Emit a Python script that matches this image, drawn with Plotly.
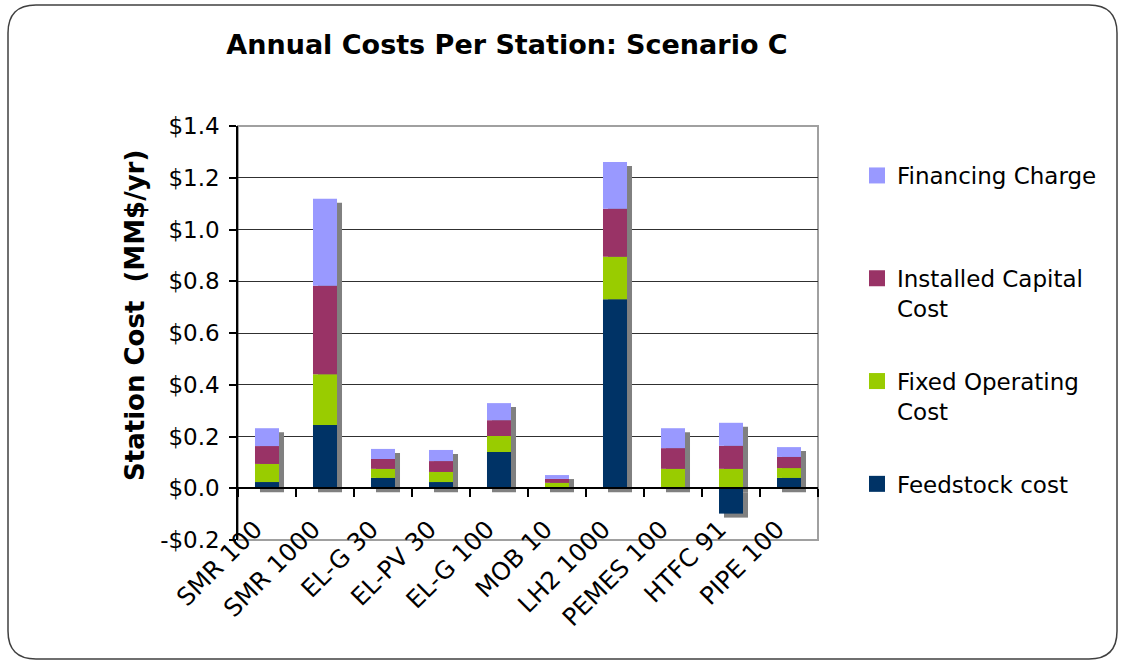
import numpy as np
import plotly.graph_objects as go

categories = ["SMR 100", "SMR 1000", "EL-G 30", "EL-PV 30", "EL-G 100",
              "MOB 10", "LH2 1000", "PEMES 100", "HTFC 91", "PIPE 100"]
feedstock = [0.024, 0.244, 0.040, 0.024, 0.140, 0.0, 0.730, 0.0, -0.098, 0.040]
fixed_op = [0.070, 0.197, 0.035, 0.039, 0.062, 0.021, 0.165, 0.075, 0.075, 0.038]
capital = [0.069, 0.342, 0.038, 0.042, 0.061, 0.015, 0.185, 0.080, 0.089, 0.043]
financing = [0.069, 0.336, 0.039, 0.043, 0.066, 0.015, 0.181, 0.077, 0.089, 0.038]

y_tickvals = [-0.2, 0.0, 0.2, 0.4, 0.6, 0.8, 1.0, 1.2, 1.4]
y_ticktext = ["-$0.2", "$0.0", "$0.2", "$0.4", "$0.6", "$0.8", "$1.0", "$1.2", "$1.4"]

series_names = ["Feedstock cost", "Fixed Operating<br>Cost",
                "Installed Capital<br>Cost", "Financing Charge"]
series_values = [feedstock, fixed_op, capital, financing]
series_colors = ["#003366", "#99CC00", "#993366", "#9999FF"]

W, H = 1122, 664
L, R, T, B = 238, 304, 126, 124
PW, PH = W - L - R, H - T - B
YMIN, YMAX = -0.2, 1.4
dx = 5 / (PW / len(categories))
dy = 4 / (PH / (YMAX - YMIN))

arr = np.array(series_values)
shadow_pos = np.where(arr > 0, arr, 0).sum(axis=0)
shadow_neg = np.where(arr < 0, arr, 0).sum(axis=0)

fig = go.Figure()
# shadows (main axes, shifted right/down)
for sv in (shadow_pos, shadow_neg):
    fig.add_trace(go.Bar(x=categories, y=sv, marker=dict(color="#808080", line=dict(width=0)),
                         showlegend=False, hoverinfo="skip", xaxis="x", yaxis="y"))
# coloured stacked bars
for i, (name, vals, col) in enumerate(zip(series_names, series_values, series_colors)):
    fig.add_trace(go.Bar(x=categories, y=vals, name=name.replace("<br>", " "),
                         legendgroup=f"g{i}", showlegend=False,
                         marker=dict(color=col, line=dict(width=0)),
                         xaxis="x2", yaxis="y2"))
# legend entries (larger square swatches)
for i, (name, col) in enumerate(zip(series_names, series_colors)):
    label = name if "<br>" in name else name + "<br>\u00a0"
    fig.add_trace(go.Scatter(x=[None], y=[None], mode="markers", name=label,
                             legendgroup=f"g{i}", legendrank=10 - i,
                             marker=dict(symbol="square", size=16, color=col),
                             xaxis="x2", yaxis="y2", hoverinfo="skip"))
# dummy trace for the zero axis with boundary ticks
fig.add_trace(go.Scatter(x=categories, y=[0] * len(categories), mode="none",
                         showlegend=False, hoverinfo="skip", xaxis="x3", yaxis="y2"))


def px2paper(px, py):
    return (px - L) / PW, (H - B - py) / PH


def rounded_rect(x0, y0, x1, y1, r):
    def P(x, y):
        a, b = px2paper(x, y)
        return f"{a:.5f},{b:.5f}"
    return (f"M {P(x0 + r, y0)} L {P(x1 - r, y0)} Q {P(x1, y0)} {P(x1, y0 + r)} "
            f"L {P(x1, y1 - r)} Q {P(x1, y1)} {P(x1 - r, y1)} "
            f"L {P(x0 + r, y1)} Q {P(x0, y1)} {P(x0, y1 - r)} "
            f"L {P(x0, y0 + r)} Q {P(x0, y0)} {P(x0 + r, y0)} Z")


fig.update_layout(
    width=W, height=H,
    margin=dict(l=L, r=R, t=T, b=B, autoexpand=False),
    paper_bgcolor="white", plot_bgcolor="white",
    barmode="relative", bargap=0.586,
    font=dict(family="DejaVu Sans", size=23, color="black"),
    title=dict(text="<b>Annual Costs Per Station: Scenario C</b>",
               font=dict(family="DejaVu Sans", size=27, color="black"),
               x=(507 - L) / PW, xref="paper", xanchor="center",
               y=1 - 45 / H, yref="container", yanchor="middle"),
    xaxis=dict(type="category", range=[-0.5 - dx, len(categories) - 0.5 - dx],
               visible=False),
    yaxis=dict(range=[YMIN + dy, YMAX + dy], visible=False),
    xaxis2=dict(type="category", overlaying="x", anchor="y2",
                range=[-0.5, len(categories) - 0.5], tickangle=-45,
                showline=False, ticks="", showgrid=False, zeroline=False,
                ticklabelstandoff=-31, ticklabelshift=-12,
                tickfont=dict(size=24.5)),
    yaxis2=dict(overlaying="y", anchor="x2", side="left", range=[YMIN, YMAX],
                tickvals=y_tickvals, ticktext=y_ticktext,
                showgrid=True, gridcolor="#303030", gridwidth=1,
                zeroline=True, zerolinecolor="black", zerolinewidth=1.5,
                showline=True, linecolor="black", linewidth=1.5,
                ticks="outside", ticklen=7, tickcolor="black", tickwidth=1.5,
                ticklabelstandoff=5, tickfont=dict(size=23)),
    xaxis3=dict(type="category", overlaying="x", anchor="free",
                position=(0 - YMIN) / (YMAX - YMIN),
                range=[-0.5, len(categories) - 0.5],
                showline=True, linecolor="black", linewidth=1.5,
                ticks="outside", tickson="boundaries", ticklen=8,
                tickcolor="black", tickwidth=1.5,
                showticklabels=False, showgrid=False, zeroline=False),
    legend=dict(x=(857 - L) / PW, xanchor="left", y=(H - B - 154) / PH, yanchor="top",
                traceorder="grouped", tracegroupgap=40, valign="top",
                font=dict(family="DejaVu Sans", size=23, color="black"),
                bgcolor="rgba(0,0,0,0)"),
    shapes=[
        dict(type="rect", xref="paper", yref="paper", x0=0, y0=0, x1=1, y1=1,
             line=dict(color="#a0a0a0", width=2), layer="below"),
        dict(type="path", xref="paper", yref="paper",
             path=rounded_rect(8, 5, 1117, 659, 28),
             line=dict(color="#404040", width=1.5), layer="below"),
    ],
    annotations=[
        dict(text="<b>Station Cost  (MM$/yr)</b>", textangle=-90,
             xref="paper", yref="paper",
             x=(135 - L) / PW, y=(H - B - 316) / PH,
             xanchor="center", yanchor="middle", showarrow=False,
             font=dict(family="DejaVu Sans", size=26, color="black")),
    ],
)

fig.write_html("out.html", config={"displayModeBar": False},
               post_script="document.body.style.margin='0';")
